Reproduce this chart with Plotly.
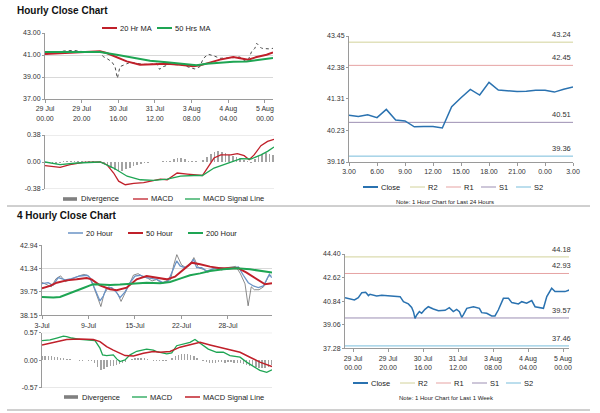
import plotly.graph_objects as go

FONT = "Liberation Sans, Arial, sans-serif"
W, H = 600, 413

# ---------------- Hourly Close Chart (top-left) ----------------
h_ticks = [0, 20, 40, 60, 80, 100, 120]
h_ticklabels = ["29 Jul<br>00.00", "29 Jul<br>20.00", "30 Jul<br>16.00", "31 Jul<br>12.00",
                "3 Aug<br>08.00", "4 Aug<br>04.00", "5 Aug<br>00.00"]
h_yticks = [37.00, 39.00, 41.00, 43.00]

hp_x = [0, 5, 10, 15.5, 21, 26.4, 30, 31.8, 33.6, 36.4, 38.2, 39.5, 40.9, 43.6, 46.4, 50, 53.6, 57.3,
        60.9, 62.5, 64.5, 68.2, 71.8, 75.5, 79.1, 81.8, 84.5, 86.4, 89.1, 91.8, 95.5, 99.1, 102.7,
        106.4, 109.1, 110.9, 112.7, 114.5, 115.5, 118.2, 122.7, 124.4]
hp_y = [41.10, 41.15, 41.36, 41.42, 41.30, 41.24, 41.30, 40.85, 40.70, 40.39, 39.94, 38.88, 39.94,
        40.15, 40.33, 40.24, 40.15, 40.15, 40.24, 39.70, 39.94, 40.15, 40.15, 40.09, 39.85, 39.73,
        39.94, 40.70, 41.06, 40.94, 40.70, 40.70, 40.76, 40.82, 40.45, 40.55, 41.30, 41.61, 42.06,
        41.61, 41.55, 41.61]

ma20_x = [0, 11.8, 22.7, 30, 33.6, 39.1, 44.6, 51.8, 59.1, 66.4, 73.6, 80.9, 84.6, 90, 95.5,
          102.7, 108.2, 110.9, 115.5, 120.9, 124.4]
ma20_y = [41.09, 41.18, 41.27, 41.33, 41.18, 40.79, 40.42, 40.12, 40.18, 40.21, 40.12, 39.97,
          40.06, 40.33, 40.58, 40.82, 40.64, 40.58, 40.82, 41.03, 41.24]
ma50_x = [0, 11.8, 22.7, 30, 39.1, 48.2, 57.3, 66.4, 75.5, 82.7, 88.2, 95.5, 102.7, 110, 117.3, 124.4]
ma50_y = [41.27, 41.27, 41.30, 41.27, 41.03, 40.73, 40.48, 40.33, 40.18, 40.06, 40.21, 40.33,
          40.39, 40.42, 40.58, 40.73]

# hourly MACD
hm_x = [0, 8.2, 13.6, 20.9, 30, 33.6, 37.3, 40, 43.6, 48.2, 53.6, 59.1, 62.7, 66.4, 71.8, 77.3,
        82.7, 85.5, 88.2, 91.8, 95.5, 100.9, 104.5, 108.2, 110.9, 113.6, 117.3, 120.9, 124.4]
hm_y = [-0.052, -0.075, -0.038, -0.005, 0.0, -0.038, -0.155, -0.27, -0.32, -0.30, -0.29, -0.26,
        -0.24, -0.25, -0.155, -0.17, -0.19, -0.19, -0.085, 0.056, 0.10, 0.10, 0.117, 0.089, 0.033,
        0.10, 0.23, 0.29, 0.32]
hs_x = [0, 8.2, 17.3, 30, 37.3, 44.6, 51.8, 59.1, 66.4, 73.6, 80.9, 85.5, 91.8, 99.1, 106.4,
        111.8, 117.3, 120.9, 124.4]
hs_y = [0.0, -0.038, -0.014, 0.0, -0.085, -0.20, -0.25, -0.26, -0.24, -0.20, -0.19, -0.19,
        -0.085, -0.014, 0.047, 0.042, 0.10, 0.15, 0.21]
hd_x = list(range(0, 125, 2))
hd_y = [-0.01, -0.02, -0.03, -0.03, -0.02, 0.01, 0.02, 0.02, 0.02, 0.02, 0.02, 0.01, 0.01, 0.01,
        0.0, 0.0, -0.02, -0.05, -0.08, -0.11, -0.13, -0.12, -0.10, -0.08, -0.06, -0.04, -0.03,
        -0.02, -0.01, 0.0, 0.0, 0.0, 0.01, 0.01, 0.02, 0.04, 0.05, 0.05, 0.04, 0.02, 0.01, 0.01,
        0.0, 0.03, 0.07, 0.11, 0.14, 0.15, 0.14, 0.12, 0.10, 0.09, 0.07, 0.05, 0.03, 0.01, -0.01,
        0.04, 0.08, 0.11, 0.12, 0.11, 0.10]

# ---------------- 1 Hour chart, last 24 hours (top-right) ----------------
c24_labels = ["3.00", "6.00", "9.00", "12.00", "15.00", "18.00", "21.00", "0.00", "3.00"]
c24_yticks = [39.16, 40.23, 41.31, 42.38, 43.45]
close24 = [40.75, 40.71, 40.77, 40.67, 40.95, 40.59, 40.56, 40.36, 40.37, 40.37, 40.32, 41.04,
           41.35, 41.63, 41.44, 41.87, 41.61, 41.58, 41.56, 41.57, 41.60, 41.60, 41.54, 41.64, 41.71]
lvl_names = ["R2", "R1", "S1", "S2"]
lvl24 = [43.24, 42.45, 40.51, 39.36]

# ---------------- 4 Hourly Close Chart (bottom-left) ----------------
d_ticks = [0, 30, 60, 90, 120]
d_ticklabels = ["3-Jul", "9-Jul", "15-Jul", "22-Jul", "28-Jul"]
d_yticks = [38.15, 39.75, 41.34, 42.94]

p4_x = [0, 3, 6, 9, 12, 15, 18, 21, 24, 27, 30, 33, 36, 38, 40, 43, 46, 49, 51, 53, 56, 59, 62, 65,
        68, 71, 74, 77, 80, 83, 85, 87, 90, 93, 96, 98, 101, 104, 107, 110, 113, 116, 119, 122,
        125, 128, 131, 133, 135, 137, 140, 143, 146, 148]
p4_y = [40.40, 40.25, 40.10, 40.65, 40.85, 40.45, 40.60, 40.75, 40.85, 40.95, 40.85, 40.20, 39.30,
        38.75, 39.60, 40.10, 39.95, 39.60, 39.10, 39.50, 40.20, 40.90, 41.00, 40.80, 40.70, 40.50,
        40.60, 40.35, 40.45, 40.60, 41.60, 42.30, 41.60, 41.40, 41.70, 42.10, 41.40, 41.30, 41.10,
        41.30, 41.40, 41.25, 41.40, 41.45, 41.50, 41.00, 40.30, 38.80, 40.10, 39.90, 39.90, 40.10,
        40.80, 40.90]
h20_x = [0, 4, 7, 10.5, 15, 19, 24.5, 29, 31, 34, 37.4, 39.6, 41.7, 45, 48.2, 50.3, 53.6, 56.8, 60,
         63.2, 67.5, 74, 78.3, 81.5, 84.8, 86.9, 89.1, 92.3, 95.5, 97.7, 99.8, 103, 106.3, 110.6,
         114.9, 119.2, 123.5, 126.7, 129.9, 133.1, 136.4, 139.6, 142.8, 145, 146.7, 148.2]
h20_y = [40.32, 40.38, 40.20, 40.73, 40.57, 40.66, 40.84, 40.89, 40.73, 39.93, 39.13, 39.47, 40.04,
         40.04, 39.70, 39.36, 39.75, 40.38, 40.84, 40.89, 40.73, 40.61, 40.38, 40.50, 41.30, 41.87,
         41.53, 41.41, 41.64, 41.98, 41.41, 41.41, 41.18, 41.34, 41.41, 41.30, 41.39, 41.46, 40.89,
         40.38, 40.16, 40.04, 40.16, 40.61, 40.96, 40.73]
h50_x = [0, 5.2, 9.5, 15.9, 22.4, 28.8, 32, 37.4, 43.9, 48.2, 54.6, 61.1, 67.5, 74, 80.5, 85.8,
         91.2, 96.6, 102, 108.4, 114.9, 121.3, 126.7, 132, 138.5, 143.9, 148.4]
h50_y = [39.99, 40.16, 40.38, 40.54, 40.61, 40.70, 40.61, 40.20, 39.93, 39.86, 40.04, 40.61, 40.84,
         40.73, 40.61, 40.79, 41.30, 41.75, 41.64, 41.48, 41.37, 41.37, 41.37, 41.07, 40.66, 40.27,
         40.34]
h200_x = [0, 7.3, 11.6, 15.9, 22.4, 26.7, 31, 33, 37.4, 43.9, 50.3, 58.9, 67.5, 76.2, 82.6, 89.1,
          95.5, 102, 108.4, 117, 125.6, 134.2, 140.6, 148.4]
h200_y = [39.40, 39.36, 39.40, 39.59, 39.88, 40.02, 40.20, 40.27, 40.25, 40.22, 40.25, 40.32, 40.38,
          40.34, 40.43, 40.66, 40.89, 41.02, 41.18, 41.30, 41.37, 41.30, 41.18, 41.07]

# 4 hourly MACD
m4_x = [0, 5.2, 9.5, 13.8, 15.9, 19.1, 24.5, 31, 34.2, 37.4, 39.1, 41.7, 46, 48.2, 50.3, 53.6, 56.8,
        61.1, 67.5, 71.8, 74, 80.5, 83.7, 86.9, 91.2, 95.5, 98.7, 102, 107.3, 112.7, 117, 121.3,
        127.8, 132, 135.3, 140.6, 145, 148.4]
m4_y = [0.405, 0.42, 0.46, 0.50, 0.49, 0.46, 0.43, 0.42, 0.405, 0.25, 0.11, 0.096, 0.11, 0.027,
        -0.027, 0.007, 0.11, 0.185, 0.23, 0.21, 0.18, 0.13, 0.15, 0.30, 0.34, 0.37, 0.43, 0.35,
        0.23, 0.165, 0.165, 0.096, 0.062, -0.04, -0.11, -0.21, -0.25, -0.20]
s4_x = [0, 7.3, 15.9, 24.5, 33.1, 37.4, 41.7, 46, 50.3, 53.6, 59, 65.4, 71.8, 76.2, 82.6, 89.1,
        95.5, 102, 108.4, 114.9, 121.3, 127.8, 134.2, 140.6, 148.4]
s4_y = [0.316, 0.37, 0.43, 0.44, 0.43, 0.385, 0.28, 0.21, 0.144, 0.096, 0.089, 0.144, 0.18, 0.165,
        0.18, 0.27, 0.32, 0.37, 0.316, 0.27, 0.21, 0.165, 0.062, -0.04, -0.13]
d4_x = list(range(0, 149, 2))
d4_y = [0.09, 0.09, 0.08, 0.08, 0.07, 0.06, 0.05, 0.04, 0.03, 0.02, 0.01, 0.0, -0.01, -0.01, 0.0,
        -0.01, -0.01, -0.06, -0.14, -0.21, -0.19, -0.15, -0.13, -0.12, -0.10, -0.08, -0.05, -0.03,
        0.0, 0.03, 0.05, 0.05, 0.05, 0.04, 0.03, 0.01, -0.01, -0.01, -0.01, -0.01, -0.02, 0.0,
        0.05, 0.09, 0.11, 0.12, 0.12, 0.12, 0.11, 0.09, 0.04, 0.0, -0.02, -0.04, -0.05, -0.05,
        -0.05, -0.04, -0.04, -0.05, -0.04, -0.04, -0.05, -0.05, -0.06, -0.07, -0.09, -0.11, -0.13,
        -0.15, -0.17, -0.17, -0.16, -0.14, -0.10]

# ---------------- 1 Hour chart, last 1 week (bottom-right) ----------------
wk_yticks = [37.28, 39.06, 40.84, 42.62, 44.40]
wk_x = [-4.6, -1.7, 0.8, 3.0, 5.0, 7.2, 8.8, 9.7, 13.5, 16.4, 20.2, 24, 26.9, 28.8, 31.6, 33.5,
        34.5, 35.4, 36.4, 37.9, 39.2, 41.1, 43, 45.9, 48.8, 52.6, 55, 57.3, 59.2, 60.8, 62.1, 63,
        65, 68.8, 72.2, 73.5, 76.4, 79.2, 81.1, 83, 85.9, 88.8, 90.7, 94.5, 96.4, 99.2, 102.1,
        104, 108.8, 110.7, 112.6, 113.5, 115.4, 118.3, 121.1, 123.6]
wk_y = [41.10, 41.00, 40.93, 41.10, 41.48, 41.51, 41.26, 41.36, 41.23, 41.28, 41.23, 41.23, 41.18,
        40.80, 40.63, 40.37, 40.05, 39.54, 39.80, 40.05, 39.92, 40.22, 40.42, 40.25, 40.12, 40.15,
        40.35, 40.05, 40.22, 40.05, 39.62, 39.80, 40.30, 40.42, 40.30, 39.97, 39.92, 39.72, 39.72,
        40.17, 41.05, 41.05, 40.73, 40.63, 40.80, 40.68, 40.88, 40.42, 40.30, 41.18, 41.56, 41.81,
        41.56, 41.56, 41.56, 41.68]
lvl_wk = [44.18, 42.93, 39.57, 37.46]

# ---------------- styling ----------------
RED = "#c0202a"
GREEN = "#1ea553"
BLUE20 = "#6a93c6"
CLOSE_BLUE = "#2a72b0"
GRAY_BAR = "#a3a3a3"
GRAY_LEG = "#808080"
PRICE = "#4a4a4a"
PRICE4 = "#5a5a5a"
LVL_COL = ["#d2d29a", "#e6a3a3", "#9c8fb3", "#78bddb"]
AX = "#9a9a9a"
GRID = "#d9d9d9"

R_A = [0, 124.4]
R_C = [0, 24]
R_D = [0, 148.4]
R_F = [-4.6, 123.4]


def dx(a, b):
    return [a / W, b / W]


def dy(top, bottom):
    return [1 - bottom / H, 1 - top / H]


fig = go.Figure()


def line_tr(x, y, color, width, xa, ya, dash="solid"):
    fig.add_trace(go.Scatter(x=x, y=y, mode="lines", line=dict(color=color, width=width, dash=dash),
                             showlegend=False, hoverinfo="skip", xaxis=xa, yaxis=ya))


def bar_tr(x, y, xa, ya):
    fig.add_trace(go.Bar(x=x, y=y, marker=dict(color=GRAY_BAR, line_width=0), width=0.9,
                         showlegend=False, hoverinfo="skip", xaxis=xa, yaxis=ya))


# Panel A
line_tr(hp_x, hp_y, PRICE, 1, "x", "y", dash="dot")
line_tr(ma20_x, ma20_y, RED, 2, "x", "y")
line_tr(ma50_x, ma50_y, GREEN, 2, "x", "y")
# Panel B
bar_tr(hd_x, hd_y, "x2", "y2")
line_tr(hm_x, hm_y, RED, 1.3, "x2", "y2")
line_tr(hs_x, hs_y, GREEN, 1.3, "x2", "y2")
# Panel C
for v, c in zip(lvl24, LVL_COL):
    line_tr(R_C, [v, v], c, 1, "x3", "y3")
line_tr(list(range(len(close24))), close24, CLOSE_BLUE, 1.5, "x3", "y3")
# Panel D
line_tr(p4_x, p4_y, PRICE4, 0.7, "x4", "y4")
line_tr(h20_x, h20_y, BLUE20, 1.3, "x4", "y4")
line_tr(h50_x, h50_y, RED, 2, "x4", "y4")
line_tr(h200_x, h200_y, GREEN, 2, "x4", "y4")
# Panel E
bar_tr(d4_x, d4_y, "x5", "y5")
line_tr(m4_x, m4_y, GREEN, 1.3, "x5", "y5")
line_tr(s4_x, s4_y, RED, 1.5, "x5", "y5")
# Panel F
for v, c in zip(lvl_wk, LVL_COL):
    line_tr(R_F, [v, v], c, 1, "x6", "y6")
line_tr(wk_x, wk_y, CLOSE_BLUE, 1.5, "x6", "y6")

tf = dict(family=FONT, size=7, color="#333333")


def xax(domain, rng, anchor, tickvals=None, ticktext=None, labels=True, line=True):
    d = dict(domain=domain, range=rng, anchor=anchor, showgrid=False, zeroline=False,
             showline=line, linecolor=AX, linewidth=1, tickfont=tf, fixedrange=True,
             automargin=False)
    if labels:
        d.update(tickmode="array", tickvals=tickvals, ticktext=ticktext, ticks="outside",
                 ticklen=3, tickcolor=AX)
    else:
        d.update(showticklabels=False, ticks="")
    return d


def yax(domain, rng, anchor, tickvals, fmt, grid=False):
    return dict(domain=domain, range=rng, anchor=anchor, tickmode="array", tickvals=tickvals,
                ticktext=[fmt.format(v) for v in tickvals], showgrid=grid, gridcolor=GRID,
                gridwidth=1, zeroline=False, showline=True, linecolor=AX, linewidth=1,
                ticks="outside", ticklen=2, tickcolor=AX, tickfont=tf, fixedrange=True,
                automargin=False)


annotations = [
    dict(text="<b>Hourly Close Chart</b>", x=15 / W, y=1 - 10 / H, xref="paper", yref="paper",
         xanchor="left", yanchor="middle", showarrow=False, font=dict(family=FONT, size=10, color="#111")),
    dict(text="<b>4 Hourly Close Chart</b>", x=15 / W, y=1 - 215 / H, xref="paper", yref="paper",
         xanchor="left", yanchor="middle", showarrow=False, font=dict(family=FONT, size=10, color="#111")),
    dict(text="Note: 1 Hour Chart for Last 24 Hours", x=445 / W, y=1 - 202 / H, xref="paper",
         yref="paper", xanchor="center", yanchor="middle", showarrow=False,
         font=dict(family=FONT, size=6, color="#222")),
    dict(text="Note: 1 Hour Chart for Last 1 Week", x=446 / W, y=1 - 398 / H, xref="paper",
         yref="paper", xanchor="center", yanchor="middle", showarrow=False,
         font=dict(family=FONT, size=6, color="#222")),
]
for v in lvl24:
    annotations.append(dict(text=f"{v:.2f}", x=R_C[1], y=v, xref="x3", yref="y3", xanchor="right",
                            yanchor="bottom", yshift=1, showarrow=False,
                            font=dict(family=FONT, size=7.5, color="#333")))
for v in lvl_wk:
    annotations.append(dict(text=f"{v:.2f}", x=R_F[1], y=v, xref="x6", yref="y6", xanchor="right",
                            yanchor="bottom", yshift=1, xshift=4, showarrow=False,
                            font=dict(family=FONT, size=7.5, color="#333")))

shapes = [
    dict(type="line", xref="paper", yref="paper", x0=7 / W, x1=590 / W, y0=1 - 206 / H, y1=1 - 206 / H,
         line=dict(color="#a0a0a0", width=1)),
    dict(type="line", xref="paper", yref="paper", x0=7 / W, x1=590 / W, y0=1 - 410 / H, y1=1 - 410 / H,
         line=dict(color="#a0a0a0", width=1)),
]
for yref, xref, vals in [("y2", "x2 domain", [0.38, -0.38]), ("y5", "x5 domain", [0.57, -0.57])]:
    for v in vals:
        shapes.append(dict(type="line", xref=xref, yref=yref, x0=0, x1=1, y0=v, y1=v,
                           line=dict(color=GRID, width=1), layer="below"))


# ----- hand-drawn legends (short key lines like the original) -----
def legend(y, entries):
    yp = 1 - y / H
    for name, color, kind, x0, width in entries:
        if kind == "box":
            shapes.append(dict(type="rect", xref="paper", yref="paper", x0=x0 / W, x1=(x0 + 14) / W,
                               y0=yp - 1.8 / H, y1=yp + 1.8 / H, line_width=0, fillcolor=color))
        else:
            shapes.append(dict(type="line", xref="paper", yref="paper", x0=x0 / W, x1=(x0 + 15) / W,
                               y0=yp, y1=yp, line=dict(color=color, width=width)))
        annotations.append(dict(text=name, x=(x0 + 16) / W, y=yp, xref="paper", yref="paper",
                                xanchor="left", yanchor="middle", showarrow=False,
                                font=dict(family=FONT, size=7.5, color="#222")))


legend(28, [("20 Hr MA", RED, "line", 102, 2), ("50 Hrs MA", GREEN, "line", 157, 2)])
legend(199, [("Divergence", GRAY_LEG, "box", 63, 0), ("MACD", RED, "line", 133, 1.3),
             ("MACD Signal Line", GREEN, "line", 185, 1.3)])
legend(187, [("Close", CLOSE_BLUE, "line", 363, 2)] +
       [(n, c, "line", x0, 1) for n, c, x0 in zip(lvl_names, LVL_COL, [410, 446, 481, 516])])
legend(233, [("20 Hour", BLUE20, "line", 68, 1.5), ("50 Hour", RED, "line", 128, 2),
             ("200 Hour", GREEN, "line", 188, 2)])
legend(397, [("Divergence", GRAY_LEG, "box", 64, 0), ("MACD", GREEN, "line", 132, 1.3),
             ("MACD Signal Line", RED, "line", 185, 1.5)])
legend(383, [("Close", CLOSE_BLUE, "line", 353, 2)] +
       [(n, c, "line", x0, 1) for n, c, x0 in zip(lvl_names, LVL_COL, [400, 436, 472, 506])])

fig.update_layout(
    width=W, height=H, margin=dict(l=0, r=0, t=0, b=0, autoexpand=False),
    paper_bgcolor="white", plot_bgcolor="white", bargap=0, barmode="overlay",
    font=dict(family=FONT, size=7, color="#333"), showlegend=False, hovermode=False,
    xaxis=xax(dx(45, 273), R_A, "y", h_ticks, h_ticklabels),
    yaxis=yax(dy(33, 99), [37, 43], "x", h_yticks, "{:.2f}", grid=True),
    xaxis2=xax(dx(45, 274), R_A, "y2", labels=False, line=False),
    yaxis2=yax(dy(135, 189), [-0.38, 0.38], "x2", [-0.38, 0.0, 0.38], "{:.2f}"),
    xaxis3=xax(dx(349, 573), R_C, "y3", list(range(0, 25, 3)), c24_labels),
    yaxis3=yax(dy(36, 162), [39.16, 43.45], "x3", c24_yticks, "{:.2f}"),
    xaxis4=xax(dx(42, 272), R_D, "y4", d_ticks, d_ticklabels),
    yaxis4=yax(dy(245.3, 315.3), [38.15, 42.94], "x4", d_yticks, "{:.2f}", grid=True),
    xaxis5=xax(dx(42, 272), R_D, "y5", labels=False, line=False),
    yaxis5=yax(dy(332.7, 387.7), [-0.57, 0.57], "x5", [-0.57, 0.0, 0.57], "{:.2f}"),
    xaxis6=xax(dx(345, 569), R_F, "y6", h_ticks, h_ticklabels),
    yaxis6=yax(dy(254, 348.3), [37.28, 44.40], "x6", wk_yticks, "{:.2f}"),
    annotations=annotations,
    shapes=shapes,
)

fig.write_html("out.html", config={"displayModeBar": False, "staticPlot": True},
               post_script="document.body.style.margin='0px';")
